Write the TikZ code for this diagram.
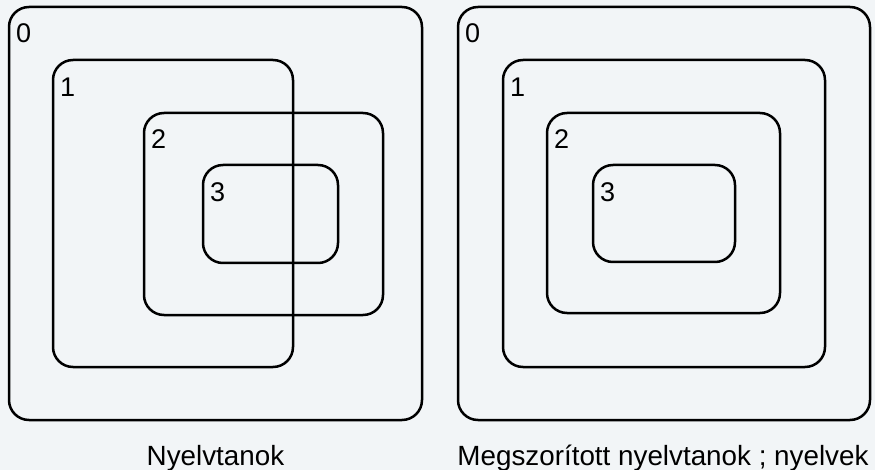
\documentclass[tikz,border=0pt]{standalone}
\usepackage{fontspec}
\setmainfont{Liberation Sans}
\definecolor{bgcol}{RGB}{242,245,247}
\begin{document}
\begin{tikzpicture}[x=1pt,y=-1pt,
  box/.style={draw=black,line width=2.5pt,rounded corners=20pt},
  lbl/.style={anchor=base west,inner sep=0pt,font=\fontsize{27}{32}\selectfont},
  captxt/.style={anchor=base,inner sep=0pt,font=\fontsize{27.8}{33}\selectfont}]
\fill[bgcol] (0,0) rectangle (875,470);
\useasboundingbox (0,0) rectangle (875,470);
% left panel
\draw[box] (9,7) rectangle (422,420);
\draw[box] (53,60) rectangle (293,367);
\draw[box] (144,113) rectangle (383,315);
\draw[box] (203,165) rectangle (338,263);
\node[lbl] (l0) at (16,43) {0};
\node[lbl] (l1) at (60,97) {1};
\node[lbl] (l2) at (151,149) {2};
\node[lbl] (l3) at (210,202) {3};
\node[captxt] (capl) at (215.5,465) {Nyelvtanok};
% right panel
\draw[box] (458,7) rectangle (870,420);
\draw[box] (503,60) rectangle (825,367);
\draw[box] (547,113) rectangle (780,313);
\draw[box] (593,165) rectangle (735,262);
\node[lbl] (r0) at (465,43) {0};
\node[lbl] (r1) at (510,97) {1};
\node[lbl] (r2) at (554,149) {2};
\node[lbl] (r3) at (600,202) {3};
\node[captxt] (capr) at (663,465) {Megszorított nyelvtanok ; nyelvek};
\end{tikzpicture}
\end{document}
